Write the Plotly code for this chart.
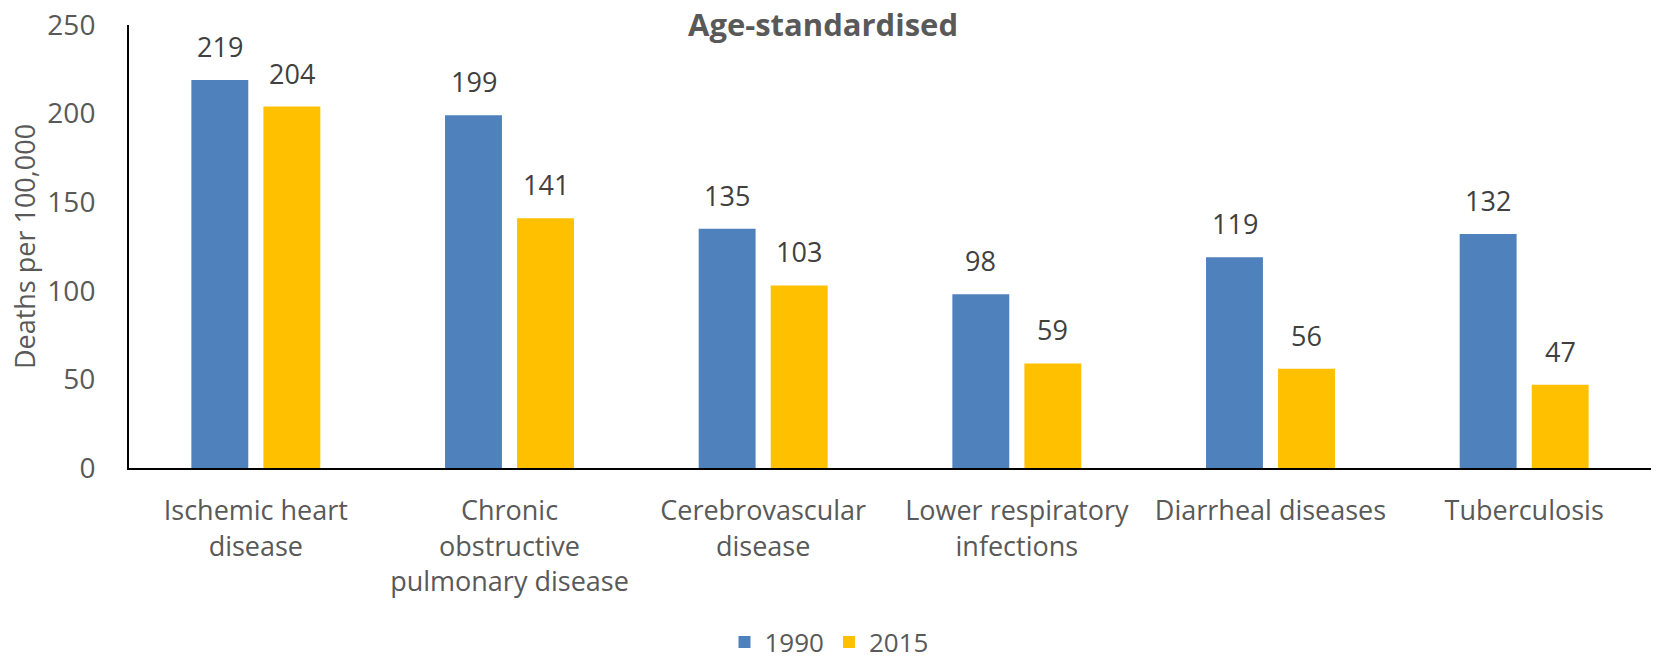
import plotly.graph_objects as go

categories = ["Ischemic heart<br>disease", "Chronic<br>obstructive<br>pulmonary disease",
              "Cerebrovascular<br>disease", "Lower respiratory<br>infections",
              "Diarrheal diseases", "Tuberculosis"]
series_names = ["1990", "2015"]
values_1990 = [219, 199, 135, 98, 119, 132]
values_2015 = [204, 141, 103, 59, 56, 47]
y_ticks = [0, 50, 100, 150, 200, 250]

colors = ["#4F81BD", "#FFC000"]
FONT = "Open Sans"

W, H = 1656, 663

fig = go.Figure()
for name, vals, col in zip(series_names, [values_1990, values_2015], colors):
    fig.add_trace(go.Bar(x=categories, y=vals, name=name, marker_color=col,
                         marker_line_width=0))

# data labels
offsets = [-36, 36]
for vals, dx in zip([values_1990, values_2015], offsets):
    for c, v in zip(categories, vals):
        fig.add_annotation(x=c, y=v, text=str(v), showarrow=False,
                           xshift=dx, yshift=13, yanchor="bottom",
                           font=dict(family=FONT, size=27, color="#404040"))

fig.update_layout(
    width=W, height=H,
    margin=dict(l=129, r=5, t=25, b=195, autoexpand=False),
    paper_bgcolor="white", plot_bgcolor="white",
    barmode="group", bargap=0.432, bargroupgap=0.21,
    font=dict(family=FONT, size=26, color="#595959"),
    title=dict(text="<b>Age-standardised</b>", x=823 / W, xref="container", xanchor="center",
               y=1 - 25 / H, yref="container", yanchor="middle",
               font=dict(family=FONT, size=31, color="#595959")),
    legend=dict(orientation="h", xref="container", yref="paper",
                x=829 / W, xanchor="center", y=-0.393, yanchor="middle",
                font=dict(family=FONT, size=26, color="#595959"),
                itemwidth=30, traceorder="normal"),
    xaxis=dict(showline=True, linecolor="black", linewidth=2, showgrid=False,
               automargin=False,
               ticks="", ticklabelstandoff=18, tickfont=dict(size=27, color="#595959"),
               tickangle=0),
    yaxis=dict(range=[0, 250], tickvals=y_ticks, showline=True, linecolor="black",
               linewidth=2, showgrid=False, zeroline=False, ticks="", automargin=False,
               ticklabeloverflow="allow",
               ticklabelstandoff=26, tickfont=dict(size=28, color="#595959"),
               title=dict(text="Deaths per 100,000", standoff=4,
                          font=dict(size=27, color="#595959"))),
)

fig.write_html("out.html", config={"displayModeBar": False},
               post_script="document.body.style.margin='0';")
